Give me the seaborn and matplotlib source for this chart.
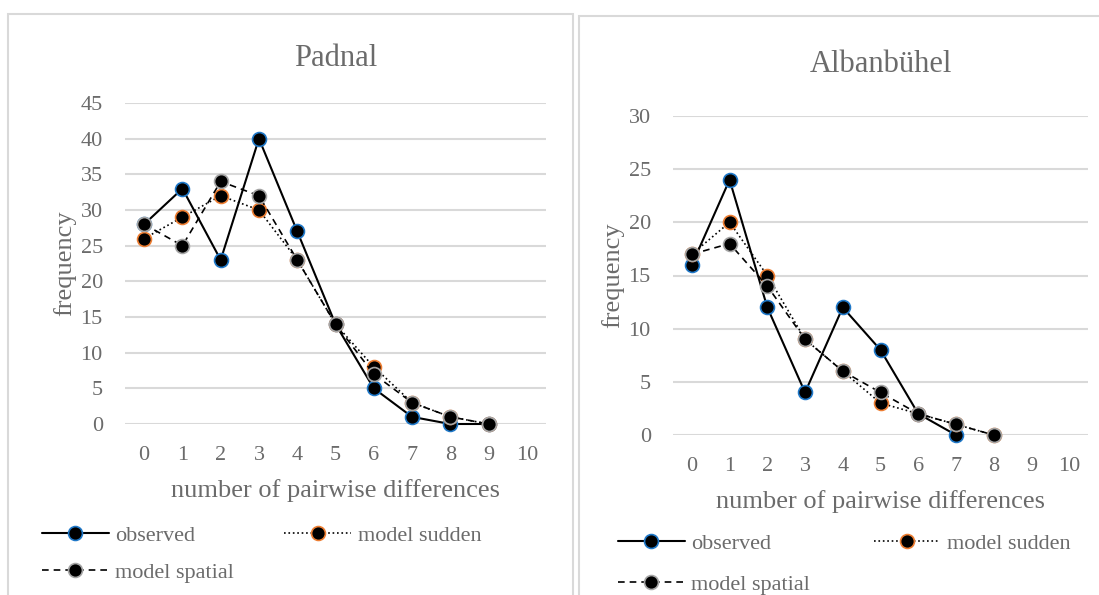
import matplotlib
matplotlib.use("Agg")
import matplotlib.pyplot as plt
from matplotlib.patches import Rectangle
import pandas as pd
import seaborn as sns

# Padnal
pad_x = [0, 1, 2, 3, 4, 5, 6, 7, 8, 9]
pad_observed = [28, 33, 23, 40, 27, 14, 5, 1, 0, 0]
pad_sudden = [26, 29, 32, 30, 23, 14, 8, 3, 1, 0]
pad_spatial = [28, 25, 34, 32, 23, 14, 7, 3, 1, 0]

# Albanbühel
alb_x_obs = [0, 1, 2, 3, 4, 5, 6, 7]
alb_observed = [16, 24, 12, 4, 12, 8, 2, 0]
alb_x_mod = [0, 1, 2, 3, 4, 5, 6, 7, 8]
alb_sudden = [17, 20, 15, 9, 6, 3, 2, 1, 0]
alb_spatial = [17, 18, 14, 9, 6, 4, 2, 1, 0]

x_ticks = list(range(11))
TEXT = "#6b6b6b"
GRID = "#d9d9d9"

sns.set_theme(style="white")
plt.rcParams["font.family"] = ["Liberation Serif", "DejaVu Serif"]

W, H = 1099, 595
fig = plt.figure(figsize=(W / 100, H / 100), dpi=100)


def px_axes(x0, y0, x1, y1):
    return fig.add_axes([x0 / W, 1 - y1 / H, (x1 - x0) / W, (y1 - y0) / H])


# panel frames
for (x0, y0, x1, y1) in [(8, 14, 573, 600), (579, 16, 1110, 600)]:
    fig.patches.append(Rectangle((x0 / W, 1 - y1 / H), (x1 - x0) / W, (y1 - y0) / H,
                                 transform=fig.transFigure, fill=False,
                                 edgecolor=GRID, lw=1.5))


def draw(ax, x_obs, obs, x_mod, sud, spa, ymax, title, title_pad):
    styles = [
        ("observed", x_obs, obs, "-", "#1f78c8", 1.5),
        ("model sudden", x_mod, sud, ":", "#ed7d31", 1.2),
        ("model spatial", x_mod, spa, (0, (4, 3)), "#a5a5a5", 1.2),
    ]
    for label, xs, ys, ls, edge, lw in styles:
        df = pd.DataFrame({"x": xs, "y": ys})
        sns.lineplot(data=df, x="x", y="y", ax=ax, color="black", linestyle=ls,
                     lw=lw, marker="o", markersize=10, markerfacecolor="black",
                     markeredgecolor=edge, markeredgewidth=1.2, label=label,
                     clip_on=False)
    ax.set_xlim(-0.5, 10.5)
    ax.set_ylim(0, ymax)
    ax.set_xticks(x_ticks)
    ax.set_yticks(range(0, ymax + 1, 5))
    ax.yaxis.grid(True, color=GRID, lw=1.5)
    ax.set_axisbelow(True)
    for s in ax.spines.values():
        s.set_visible(False)
    ax.tick_params(axis="both", length=0, labelsize=16, labelcolor=TEXT)
    ax.tick_params(axis="y", pad=16)
    ax.tick_params(axis="x", pad=16)
    ax.set_xlabel("number of pairwise differences", fontsize=19, color=TEXT, labelpad=10)
    ax.set_ylabel("frequency", fontsize=19, color=TEXT, labelpad=3)
    ax.set_title(title, fontsize=22, color=TEXT, pad=title_pad)
    ax.get_legend().remove()


ax1 = px_axes(125, 103, 546, 424)
draw(ax1, pad_x, pad_observed, pad_x, pad_sudden, pad_spatial, 45, "Padnal", 27)
ax2 = px_axes(673, 116, 1088, 435)
draw(ax2, alb_x_obs, alb_observed, alb_x_mod, alb_sudden, alb_spatial, 30, "Albanbühel", 32)

for ax, (lx, ly), spacing, colsp in [(ax1, (42, 525), 0.75, 2.25), (ax2, (618, 533), 0.95, 2.85)]:
    h, l = ax.get_legend_handles_labels()
    order = [0, 2, 1]
    fig.legend([h[i] for i in order], [l[i] for i in order],
               loc="upper left", bbox_to_anchor=(lx / W, 1 - ly / H), ncol=2,
               frameon=False, fontsize=16, labelcolor=TEXT, handlelength=3.0,
               handletextpad=0.3, columnspacing=colsp, labelspacing=spacing,
               borderaxespad=0, borderpad=0)

fig.savefig("out.png", dpi=100)
